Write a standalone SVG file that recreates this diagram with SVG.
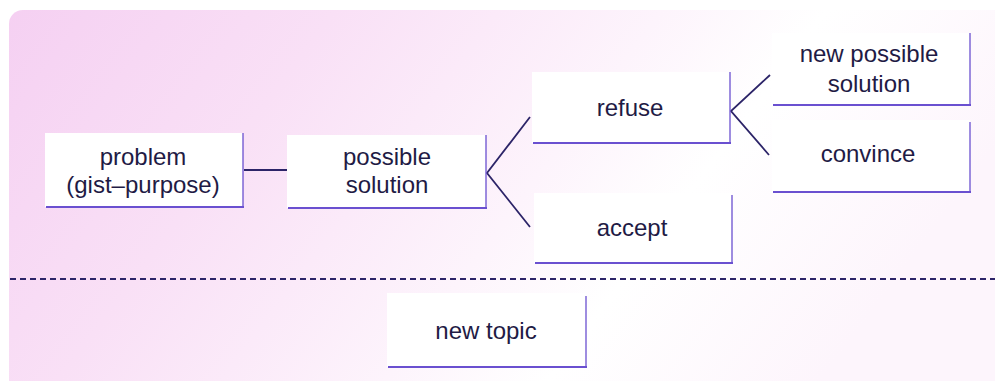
<svg xmlns="http://www.w3.org/2000/svg" width="995" height="381" viewBox="0 0 995 381">
<defs>
<linearGradient id="bg" x1="0" y1="0" x2="1" y2="0.3">
<stop offset="0" stop-color="#f5d0f2"/>
<stop offset="0.3" stop-color="#f9e0f6"/>
<stop offset="0.6" stop-color="#fdf4fc"/>
<stop offset="0.75" stop-color="#ffffff"/>
<stop offset="1" stop-color="#fdf5fc"/>
</linearGradient>
<style>
.box{fill:#ffffff;}
.edge{stroke:#6a50d0;fill:none;}
.eb{stroke-width:2.2;}
.er{stroke-width:1.3;}
.lbl{font-family:"Liberation Sans",Arial,sans-serif;font-size:24px;fill:#1f1b45;text-anchor:middle;}
.conn{stroke:#2c2468;stroke-width:1.8;fill:none;}
</style>
</defs>
<rect x="0" y="0" width="995" height="381" fill="#ffffff"/>
<rect x="9" y="10" width="1000" height="400" rx="14" fill="url(#bg)"/>

<g id="connectors">
<line class="conn" x1="244" y1="170" x2="287" y2="170"/>
<polyline class="conn" points="530,117 487,173 530,227"/>
<polyline class="conn" points="770,75 731,111 769,155"/>
<line x1="10" y1="279" x2="995" y2="279" stroke="#2c2468" stroke-width="1.8" stroke-dasharray="6,4"/>
</g>

<g id="problem">
<rect class="box" x="45" y="133" width="198" height="74"/>
<path class="edge er" d="M243,133 V207"/>
<path class="edge eb" d="M46,207 H244"/>
<text class="lbl" x="143" y="165">problem</text>
<text class="lbl" x="143" y="193">(gist–purpose)</text>
</g>

<g id="possible-solution">
<rect class="box" x="287" y="135" width="199" height="73"/>
<path class="edge er" d="M486,135 V208"/>
<path class="edge eb" d="M288,208 H487"/>
<text class="lbl" x="387" y="165">possible</text>
<text class="lbl" x="387" y="193">solution</text>
</g>

<g id="refuse">
<rect class="box" x="532" y="72" width="198" height="71"/>
<path class="edge er" d="M730,72 V143"/>
<path class="edge eb" d="M533,143 H731"/>
<text class="lbl" x="630" y="116">refuse</text>
</g>

<g id="accept">
<rect class="box" x="534" y="193" width="198" height="70"/>
<path class="edge er" d="M732,195 V263"/>
<path class="edge eb" d="M535,263 H733"/>
<text class="lbl" x="632" y="236">accept</text>
</g>

<g id="new-possible-solution">
<rect class="box" x="772" y="33" width="198" height="72"/>
<path class="edge er" d="M970,33 V105"/>
<path class="edge eb" d="M773,105 H971"/>
<text class="lbl" x="869" y="62">new possible</text>
<text class="lbl" x="869" y="92">solution</text>
</g>

<g id="convince">
<rect class="box" x="772" y="120" width="198" height="72"/>
<path class="edge er" d="M970,122 V192"/>
<path class="edge eb" d="M773,192 H971"/>
<text class="lbl" x="868" y="162">convince</text>
</g>

<g id="new-topic">
<rect class="box" x="387" y="293" width="199" height="74"/>
<path class="edge er" d="M586,296 V367"/>
<path class="edge eb" d="M388,367 H587"/>
<text class="lbl" x="486" y="339">new topic</text>
</g>
</svg>
